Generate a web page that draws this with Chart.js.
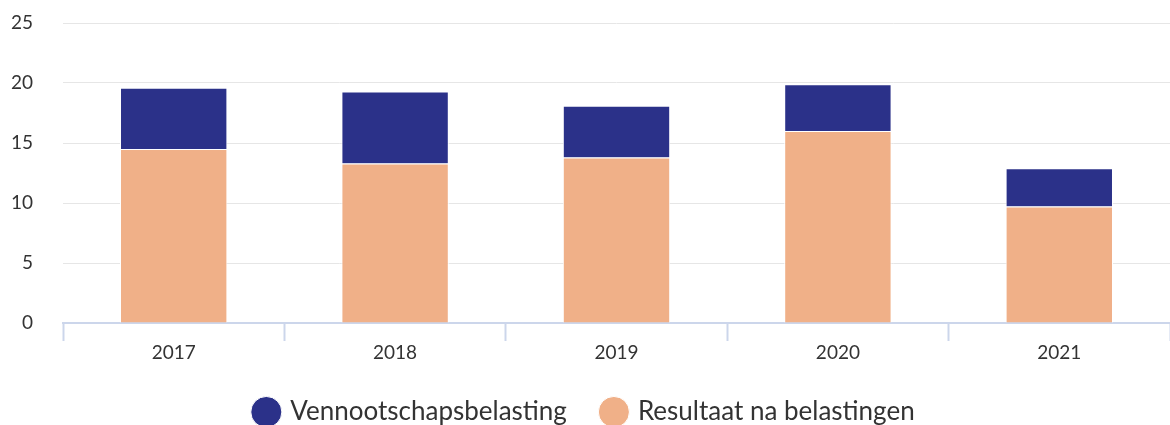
<!DOCTYPE html>
<html>
<head>
<meta charset="utf-8">
<script src="https://cdn.jsdelivr.net/npm/chart.js@4"></script>
<style>
  html, body { margin: 0; padding: 0; background: #fff; }
  canvas { display: block; }
</style>
</head>
<body>
<canvas id="taxChart" width="1170" height="425"></canvas>
<script>
const years = ["2017", "2018", "2019", "2020", "2021"];
const resultaatNaBelastingen = [14.5, 13.3, 13.8, 16.0, 9.7];
const vennootschapsbelasting = [5.1, 6.0, 4.3, 3.9, 3.2];
const yTicks = [0, 5, 10, 15, 20, 25];

const blue = "#2b3189";
const orange = "#f0b088";
const fontFamily = "Lato, 'Open Sans', sans-serif";

const ctx = document.getElementById("taxChart").getContext("2d");

new Chart(ctx, {
  type: "bar",
  data: {
    labels: years,
    datasets: [
      {
        label: "Resultaat na belastingen",
        data: resultaatNaBelastingen,
        backgroundColor: orange,
        borderColor: "#ffffff",
        borderWidth: 1,
      },
      {
        label: "Vennootschapsbelasting",
        data: vennootschapsbelasting,
        backgroundColor: blue,
        borderColor: "#ffffff",
        borderWidth: 1,
      },
    ],
  },
  options: {
    responsive: false,
    animation: false,
    layout: { padding: { top: 23, right: 0, bottom: -10, left: 0 } },
    datasets: {
      bar: { categoryPercentage: 1, barPercentage: 0.485 },
    },
    scales: {
      x: {
        stacked: true,
        afterFit: (scale) => {
          scale.height = 40;
        },
        grid: {
          drawOnChartArea: false,
          drawTicks: true,
          tickLength: 18,
          tickWidth: 2,
          color: "#ccd6eb",
          offset: true,
        },
        border: { color: "#ccd6eb", width: 2 },
        ticks: {
          color: "#333333",
          font: { family: fontFamily, size: 19 },
          padding: 0,
        },
      },
      y: {
        stacked: true,
        min: 0,
        max: 25,
        afterBuildTicks: (scale) => {
          scale.ticks = yTicks.map((v) => ({ value: v }));
        },
        afterFit: (scale) => {
          scale.width = 63;
        },
        // invisible tick marks push the labels away from the plot
        grid: { color: "#e6e6e6", lineWidth: 1, drawTicks: true, tickLength: 30, tickColor: "rgba(0,0,0,0)" },
        border: { display: false },
        ticks: {
          color: "#333333",
          font: { family: fontFamily, size: 19 },
          padding: 0,
        },
      },
    },
    plugins: {
      tooltip: { enabled: false },
      legend: {
        position: "bottom",
        reverse: true,
        labels: {
          usePointStyle: true,
          pointStyle: "circle",
          boxWidth: 22,
          boxHeight: 22,
          color: "#333333",
          font: { family: fontFamily, size: 26 },
          padding: 36,
        },
      },
    },
  },
});
</script>
</body>
</html>
